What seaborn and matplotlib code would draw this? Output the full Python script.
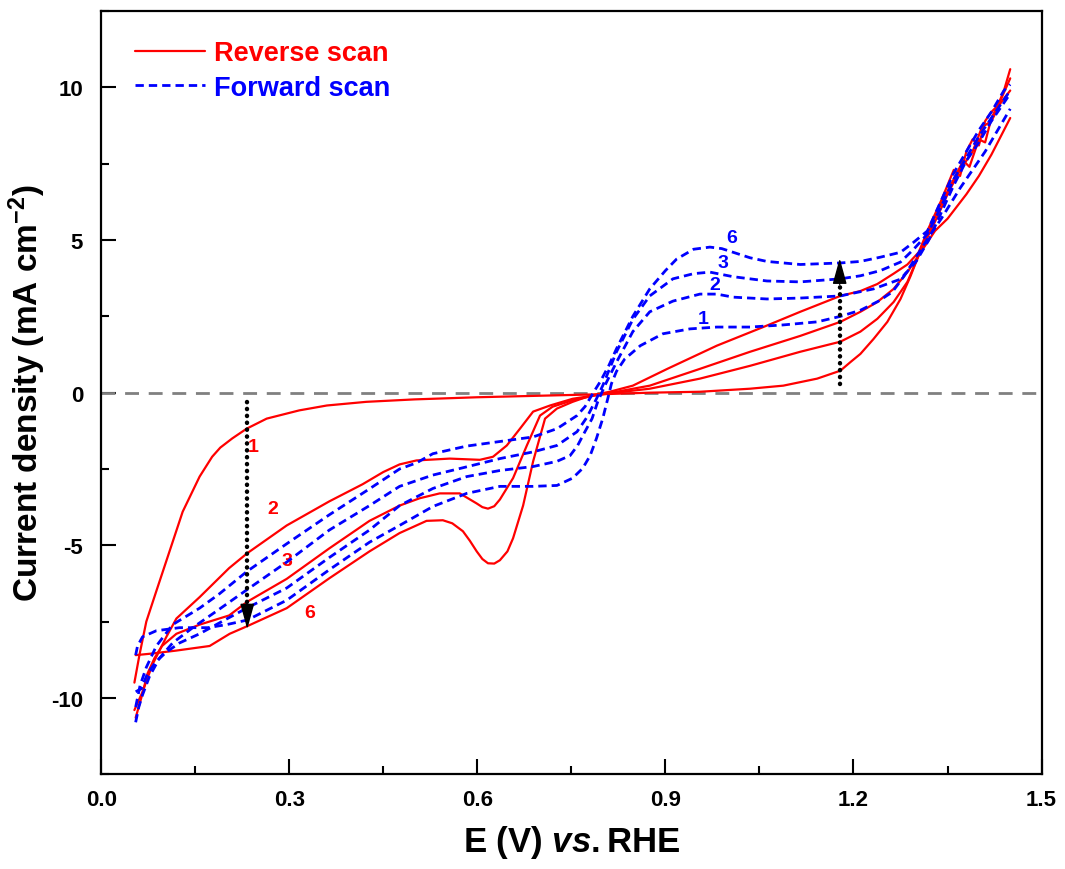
import matplotlib
matplotlib.use("Agg")
import matplotlib.pyplot as plt
from matplotlib.lines import Line2D
from matplotlib.ticker import MultipleLocator, FormatStrFormatter
import pandas as pd
import seaborn as sns

# reverse scans (red), potential goes 1.45 -> 0.05 V
rev1_E = [1.45, 1.44, 1.42, 1.40, 1.38, 1.35, 1.33, 1.304, 1.291, 1.275, 1.254, 1.232, 1.211, 1.195, 1.179,
          1.142, 1.088, 1.035, 0.955, 0.875, 0.80, 0.70, 0.60, 0.50, 0.423, 0.36, 0.316, 0.264, 0.232, 0.209,
          0.19, 0.177, 0.157, 0.13, 0.109, 0.088, 0.072, 0.061, 0.053]
rev1_I = [9.0, 8.6, 7.8, 7.1, 6.5, 5.7, 5.3, 4.5, 3.82, 3.07, 2.32, 1.76, 1.27, 1.0, 0.72,
          0.46, 0.23, 0.13, 0.03, 0.0, -0.05, -0.1, -0.15, -0.22, -0.3, -0.42, -0.58, -0.85, -1.18, -1.5,
          -1.8, -2.1, -2.75, -3.9, -5.2, -6.5, -7.5, -8.6, -9.5]

rev2_E = [1.45, 1.435, 1.42, 1.405, 1.39, 1.37, 1.35, 1.33, 1.304, 1.286, 1.264, 1.238, 1.211, 1.179, 1.115,
          1.035, 0.955, 0.875, 0.82, 0.79, 0.752, 0.716, 0.689, 0.668, 0.647, 0.625, 0.604, 0.556, 0.503,
          0.476, 0.45, 0.417, 0.364, 0.296, 0.233, 0.204, 0.157, 0.12, 0.104, 0.082, 0.066, 0.053]
rev2_I = [9.9, 9.5, 8.9, 8.7, 7.9, 7.3, 6.5, 5.6, 4.5, 3.63, 2.97, 2.42, 2.0, 1.67, 1.34,
          0.88, 0.46, 0.13, 0.0, -0.08, -0.2, -0.42, -0.62, -1.18, -1.73, -2.1, -2.2, -2.16, -2.22,
          -2.35, -2.6, -3.0, -3.56, -4.35, -5.26, -5.75, -6.7, -7.4, -8.0, -8.9, -9.8, -10.4]

rev3_E = [1.45, 1.435, 1.42, 1.41, 1.40, 1.385, 1.375, 1.36, 1.34, 1.32, 1.304, 1.286, 1.264, 1.238, 1.211,
          1.179, 1.115, 1.035, 0.955, 0.875, 0.822, 0.79, 0.752, 0.72, 0.70, 0.679, 0.657, 0.636, 0.627,
          0.617, 0.608, 0.599, 0.572, 0.54, 0.508, 0.476, 0.428, 0.364, 0.296, 0.233, 0.204, 0.157, 0.12,
          0.097, 0.085, 0.074, 0.064, 0.055]
rev3_I = [10.3, 9.6, 9.0, 8.2, 8.3, 7.4, 7.6, 7.0, 6.2, 5.3, 4.5, 3.95, 3.4, 2.97, 2.65,
          2.32, 1.86, 1.34, 0.78, 0.23, 0.03, -0.08, -0.25, -0.46, -0.75, -1.73, -2.8, -3.5, -3.72,
          -3.8, -3.75, -3.63, -3.3, -3.3, -3.46, -3.7, -4.2, -5.1, -6.1, -6.85, -7.3, -7.6, -7.9,
          -8.3, -8.7, -9.2, -10.0, -10.65]

rev6_E = [1.45, 1.44, 1.43, 1.42, 1.41, 1.40, 1.39, 1.38, 1.37, 1.36, 1.34, 1.32, 1.304, 1.286, 1.264,
          1.238, 1.211, 1.179, 1.115, 1.062, 0.982, 0.903, 0.848, 0.811, 0.78, 0.752, 0.727, 0.708, 0.689,
          0.673, 0.657, 0.648, 0.636, 0.627, 0.617, 0.608, 0.599, 0.588, 0.577, 0.56, 0.545, 0.519, 0.476,
          0.428, 0.364, 0.296, 0.233, 0.205, 0.173, 0.12, 0.08, 0.055]
rev6_I = [10.6, 9.9, 9.4, 9.2, 8.9, 8.1, 8.3, 7.9, 7.1, 7.3, 6.3, 5.4, 4.6, 4.2, 3.9,
          3.56, 3.33, 3.17, 2.65, 2.2, 1.54, 0.78, 0.23, 0.03, -0.1, -0.3, -0.52, -0.85, -2.25,
          -3.7, -4.77, -5.2, -5.49, -5.6, -5.59, -5.45, -5.2, -4.85, -4.54, -4.28, -4.18, -4.2, -4.6,
          -5.2, -6.08, -7.06, -7.65, -7.9, -8.3, -8.45, -8.55, -8.6]

# forward scans (blue), potential goes 0.05 -> 1.45 V
fwd1_E = [0.055, 0.058, 0.066, 0.088, 0.125, 0.17, 0.2, 0.233, 0.296, 0.364, 0.428, 0.476, 0.529, 0.583,
          0.636, 0.689, 0.727, 0.752, 0.768, 0.78, 0.79, 0.80, 0.808, 0.814, 0.822, 0.835, 0.86, 0.896,
          0.939, 0.982, 1.035, 1.088, 1.142, 1.179, 1.211, 1.24, 1.262, 1.28, 1.30, 1.32, 1.34, 1.37,
          1.39, 1.41, 1.43, 1.45]
fwd1_I = [-8.6, -8.3, -8.0, -7.8, -7.7, -7.7, -7.6, -7.45, -6.8, -5.8, -4.9, -4.35, -3.73, -3.3,
          -3.07, -3.07, -3.04, -2.8, -2.48, -2.06, -1.5, -0.85, -0.2, 0.3, 0.7, 1.1, 1.54, 1.93,
          2.09, 2.15, 2.15, 2.22, 2.32, 2.5, 2.7, 3.0, 3.3, 3.8, 4.45, 5.1, 5.7, 6.7,
          7.3, 7.9, 8.6, 9.3]

fwd2_E = [0.055, 0.064, 0.074, 0.088, 0.104, 0.125, 0.157, 0.188, 0.233, 0.296, 0.364, 0.428, 0.476,
          0.529, 0.583, 0.636, 0.689, 0.727, 0.748, 0.76, 0.77, 0.783, 0.792, 0.805, 0.822, 0.848, 0.875,
          0.912, 0.955, 0.982, 1.008, 1.062, 1.115, 1.179, 1.232, 1.275, 1.30, 1.32, 1.34, 1.36, 1.38,
          1.40, 1.42, 1.44, 1.45]
fwd2_I = [-9.8, -9.7, -9.2, -8.8, -8.5, -8.2, -7.9, -7.55, -7.05, -6.4, -5.4, -4.5, -3.7,
          -3.14, -2.75, -2.55, -2.42, -2.25, -2.06, -1.73, -1.34, -0.85, -0.3, 0.3, 1.0, 2.0, 2.65,
          3.0, 3.23, 3.23, 3.13, 3.07, 3.1, 3.17, 3.4, 3.72, 4.3, 5.0, 5.9, 6.8, 7.6,
          8.2, 8.9, 9.5, 9.8]

fwd3_E = [0.055, 0.06, 0.066, 0.077, 0.093, 0.114, 0.146, 0.188, 0.233, 0.296, 0.364, 0.428, 0.476,
          0.529, 0.583, 0.636, 0.689, 0.727, 0.759, 0.775, 0.79, 0.80, 0.822, 0.848, 0.875, 0.912, 0.945,
          0.971, 1.008, 1.062, 1.115, 1.179, 1.211, 1.243, 1.275, 1.296, 1.318, 1.34, 1.36, 1.38, 1.40,
          1.42, 1.44, 1.45]
fwd3_I = [-10.8, -10.3, -9.9, -9.3, -8.7, -8.2, -7.7, -7.1, -6.45, -5.55, -4.5, -3.7, -3.07,
          -2.7, -2.43, -2.16, -1.94, -1.73, -1.28, -0.8, -0.2, 0.23, 1.34, 2.4, 3.17, 3.73, 3.9,
          3.95, 3.8, 3.66, 3.63, 3.73, 3.83, 4.0, 4.28, 4.7, 5.2, 6.1, 7.0, 7.7, 8.4,
          9.0, 9.6, 9.9]

fwd6_E = [0.055, 0.062, 0.072, 0.088, 0.114, 0.157, 0.188, 0.233, 0.296, 0.364, 0.428, 0.476, 0.503,
          0.529, 0.583, 0.636, 0.689, 0.727, 0.759, 0.772, 0.785, 0.796, 0.81, 0.822, 0.848, 0.875, 0.90,
          0.918, 0.945, 0.971, 0.99, 1.008, 1.035, 1.062, 1.115, 1.179, 1.211, 1.243, 1.275, 1.296, 1.318,
          1.34, 1.36, 1.38, 1.40, 1.42, 1.44, 1.45]
fwd6_I = [-10.3, -9.6, -9.0, -8.3, -7.6, -7.06, -6.6, -5.85, -4.95, -4.0, -3.15, -2.5, -2.3,
          -2.0, -1.75, -1.6, -1.45, -1.18, -0.75, -0.45, 0.0, 0.36, 0.9, 1.44, 2.5, 3.4, 4.0,
          4.38, 4.7, 4.77, 4.72, 4.6, 4.42, 4.3, 4.2, 4.25, 4.3, 4.44, 4.6, 4.93, 5.3,
          6.3, 7.2, 7.9, 8.6, 9.2, 9.9, 10.1]

rev_curves = [(rev1_E, rev1_I), (rev2_E, rev2_I), (rev3_E, rev3_I), (rev6_E, rev6_I)]
fwd_curves = [(fwd1_E, fwd1_I), (fwd2_E, fwd2_I), (fwd3_E, fwd3_I), (fwd6_E, fwd6_I)]

# cycle labels
rev_lbl = ["1", "2", "3", "6"]
rev_lbl_E = [0.243, 0.273, 0.297, 0.332]
rev_lbl_I = [-1.75, -3.8, -5.5, -7.2]
fwd_lbl = ["1", "2", "3", "6"]
fwd_lbl_E = [0.96, 0.979, 0.992, 1.006]
fwd_lbl_I = [2.42, 3.53, 4.28, 5.1]

RED = "#ff0000"
BLUE = "#0000ff"
blue_dash = (0, (3.0, 1.8))

sns.set_theme(style="ticks")
plt.rcParams["font.family"] = ["Liberation Sans", "DejaVu Sans"]
plt.rcParams["font.weight"] = "bold"
plt.rcParams["axes.unicode_minus"] = False
plt.rcParams["mathtext.fontset"] = "custom"
plt.rcParams["mathtext.rm"] = "Liberation Sans:bold"
plt.rcParams["mathtext.it"] = "Liberation Sans:bold:italic"
plt.rcParams["mathtext.bf"] = "Liberation Sans:bold"
for key in ["text.color", "axes.labelcolor", "xtick.color", "ytick.color", "axes.edgecolor"]:
    plt.rcParams[key] = "black"

fig, ax = plt.subplots(figsize=(10.65, 8.7), dpi=100)
fig.subplots_adjust(left=0.095, right=0.978, top=0.986, bottom=0.109)

ax.axhline(0, color="#808080", lw=2.0, ls=(0, (5, 3.5)), zorder=1)

for E, I in rev_curves:
    df = pd.DataFrame({"E": E, "I": I})
    sns.lineplot(data=df, x="E", y="I", sort=False, estimator=None, color=RED, lw=1.6, ax=ax, zorder=3)

for E, I in fwd_curves:
    df = pd.DataFrame({"E": E, "I": I})
    sns.lineplot(data=df, x="E", y="I", sort=False, estimator=None, color=BLUE, lw=2.0,
                 linestyle=blue_dash, ax=ax, zorder=4)

# dotted arrows
for x0, y0, y1, y_tail in [(0.233, -0.3, -7.75, -6.9), (1.178, 0.3, 4.4, 3.55)]:
    ax.plot([x0, x0], [y0, y_tail], color="black", lw=3.2, ls=(0, (0.05, 1.5)),
            dash_capstyle="round", zorder=5)
    ax.annotate("", xy=(x0, y1), xytext=(x0, y_tail),
                arrowprops=dict(arrowstyle="-|>,head_length=0.8,head_width=0.22",
                                color="black", lw=1, mutation_scale=20, shrinkA=0, shrinkB=0),
                zorder=6)

for t, x, y in zip(rev_lbl, rev_lbl_E, rev_lbl_I):
    ax.text(x, y, t, color=RED, fontsize=14, fontweight="bold", ha="center", va="center")
for t, x, y in zip(fwd_lbl, fwd_lbl_E, fwd_lbl_I):
    ax.text(x, y, t, color=BLUE, fontsize=14, fontweight="bold", ha="center", va="center")

ax.set_xlim(0, 1.5)
ax.set_ylim(-12.5, 12.5)
ax.xaxis.set_major_locator(MultipleLocator(0.3))
ax.xaxis.set_minor_locator(MultipleLocator(0.15))
ax.yaxis.set_major_locator(MultipleLocator(5))
ax.yaxis.set_minor_locator(MultipleLocator(2.5))
ax.xaxis.set_major_formatter(FormatStrFormatter("%.1f"))
ax.yaxis.set_major_formatter(FormatStrFormatter("%d"))
ax.tick_params(which="major", direction="in", length=11, width=1.5, labelsize=16, top=False, right=False,
               colors="black")
ax.tick_params(which="minor", direction="in", length=6, width=1.5, top=False, right=False, colors="black")
ax.tick_params(axis="x", which="major", pad=11)
ax.tick_params(axis="y", which="major", pad=13)
for lbl in ax.get_xticklabels() + ax.get_yticklabels():
    lbl.set_fontweight("bold")
for s in ax.spines.values():
    s.set_linewidth(1.6)
    s.set_color("black")

ax.set_xlabel(r"E (V) $\mathit{vs.}$RHE", fontsize=25, fontweight="bold", labelpad=9, color="black")
ax.set_ylabel(r"Current density (mA cm$^{-2}$)", fontsize=24, fontweight="bold", labelpad=2, color="black")

handles = [Line2D([], [], color=RED, lw=1.6),
           Line2D([], [], color=BLUE, lw=2.0, linestyle=blue_dash)]
leg = ax.legend(handles, ["Reverse scan", "Forward scan"], loc="upper left",
                bbox_to_anchor=(0.036, 0.962), frameon=False, borderpad=0, borderaxespad=0,
                handlelength=2.6, handletextpad=0.3, labelspacing=0.32,
                prop={"weight": "bold", "size": 19.5}, labelcolor=[RED, BLUE])

fig.savefig("out.png", dpi=100)
